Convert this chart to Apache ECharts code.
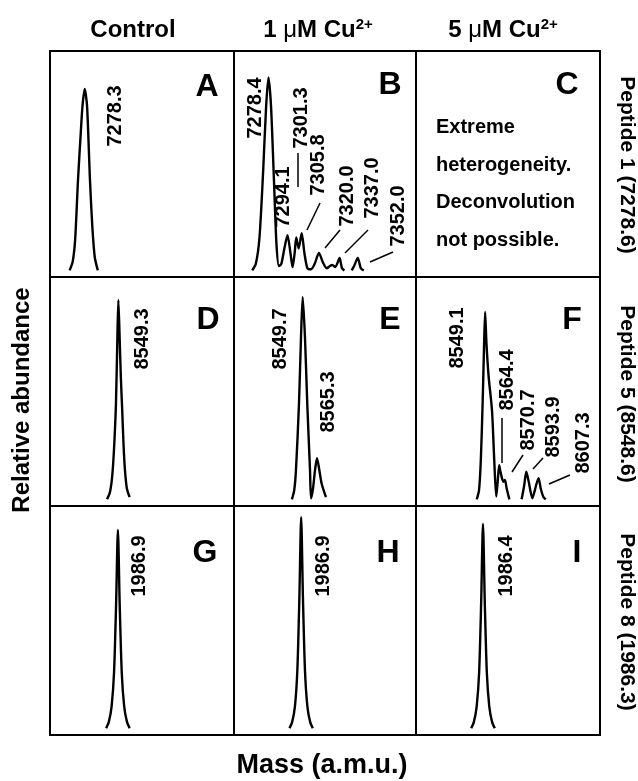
<!DOCTYPE html>
<html>
<head>
<meta charset="utf-8">
<script src="https://cdn.jsdelivr.net/npm/echarts@6/dist/echarts.min.js"></script>
<style>
html, body { margin: 0; padding: 0; background: #fff; }
#chart { width: 638px; height: 781px; }
</style>
</head>
<body>
<div id="chart"></div>
<script>
// titles
var columnTitles = ['Control', '1 {mu|μ}M Cu{sup|2+}', '5 {mu|μ}M Cu{sup|2+}'];
var rowTitles = ['Peptide 1 (7278.6)', 'Peptide 5 (8548.6)', 'Peptide 8 (1986.3)'];
var panelLetters = ['A', 'B', 'C', 'D', 'E', 'F', 'G', 'H', 'I'];
var noteC = ['Extreme', 'heterogeneity.', 'Deconvolution', 'not possible.'];

// deconvoluted spectra, mass (a.m.u.) vs relative abundance
var massA = [7266, 7268.5, 7270.5, 7272.8, 7275, 7276.5, 7278.3, 7280.2, 7282.6, 7284.5, 7286.5, 7289];
var abundA = [0, 4, 14, 41, 62, 75, 82.7, 75, 41, 20, 6, 0];

var massB = [7265, 7268, 7271, 7274, 7276.5, 7278.4, 7280.5, 7283, 7285, 7287, 7289, 7291.5, 7294.1, 7296.5, 7298.3, 7300, 7301.3, 7303.3, 7305.8, 7308, 7310.5, 7313.5, 7316.5, 7320, 7323, 7326.5, 7329, 7331, 7333.5, 7335, 7337, 7339, 7341, 7344, 7347, 7349, 7352, 7354.5, 7357];
var abundB = [0, 3, 15, 45, 75, 88, 75, 40, 12, 2, 3, 10, 16, 8, 1.5, 8, 15, 10, 17, 8, 1, 0.5, 3, 8, 4, 1, 2, 2.5, 1.5, 3, 5.7, 1, 0, '-', 0, 2, 5.7, 1, 0];

var massD = [8537, 8540, 8542, 8543.5, 8545, 8546.7, 8548.3, 8549.3, 8550.6, 8552, 8553.5, 8555, 8556.5, 8558.5, 8561.5];
var abundD = [0, 3, 8, 15, 26, 43, 74, 89.7, 74, 55, 40, 24, 13, 5, 1];

var massE = [8538, 8540.5, 8542.4, 8545.7, 8547.9, 8549.7, 8552.2, 8554.7, 8557.7, 8558.8, 8561, 8563.1, 8565.3, 8567.5, 8570.4, 8575];
var abundE = [0, 4, 13, 43, 73, 91, 73, 43, 13, 0.5, 5, 13, 18.5, 14, 7, 1];

var massF = [8540, 8542.5, 8544.5, 8546.4, 8547.8, 8549.1, 8550.6, 8553, 8556.6, 8559, 8561.2, 8562.8, 8564.4, 8566, 8569, 8570.7, 8572.5, 8575.5, 8582, 8588.8, 8591.5, 8593.9, 8596.5, 8600.5, 8602.5, 8605, 8607.3, 8609.5, 8612.5, 8615];
var abundF = [0, 4, 18, 43, 66, 84.3, 70, 55, 40, 18, 1.2, 8, 15.4, 12, 7.9, 8.7, 5, 0, '-', 0, 6, 12.4, 8, 0.5, 3, 7, 9.5, 5, 1, 0];

var massG = [1980.5, 1982, 1983.5, 1984.8, 1985.9, 1986.9, 1987.9, 1989, 1990.3, 1991.8, 1993.3];
var abundG = [0, 3, 10, 25, 55, 89.2, 55, 25, 10, 3, 0];
var massH = [1980.5, 1982, 1983.5, 1984.8, 1985.9, 1986.9, 1987.9, 1989, 1990.3, 1991.8, 1993.3];
var abundH = [0, 3, 10, 26, 58, 95, 58, 26, 10, 3, 0];
var massI = [1980, 1981.5, 1983, 1984.3, 1985.4, 1986.4, 1987.4, 1988.5, 1989.8, 1991.3, 1992.8];
var abundI = [0, 3, 10, 25, 56, 91.9, 56, 25, 10, 3, 0];

// peak annotations
var peaksA = ['7278.3'];
var peaksB = ['7278.4', '7294.1', '7301.3', '7305.8', '7320.0', '7337.0', '7352.0'];
var peaksD = ['8549.3'];
var peaksE = ['8549.7', '8565.3'];
var peaksF = ['8549.1', '8564.4', '8570.7', '8593.9', '8607.3'];
var peaksG = ['1986.9'];
var peaksH = ['1986.9'];
var peaksI = ['1986.4'];

// mass window of each panel
var massMin = [7250, 7250, 7250, 8475, 8475, 8474, 1950, 1950, 1950];
var massMax = [7400, 7400, 7400, 8675, 8673, 8674, 2050, 2050, 2050];

// ---- layout ----
var colLeft = [50, 234, 416], colWidth = [184, 182, 184];
var rowTop = [51, 277, 506], rowHeight = [226, 229, 229];
var FONT = '"Liberation Sans", Arial, Helvetica, sans-serif';

var panelData = [
    [massA, abundA], [massB, abundB], null,
    [massD, abundD], [massE, abundE], [massF, abundF],
    [massG, abundG], [massH, abundH], [massI, abundI]
];

function pairs(m, a) {
    var out = [];
    for (var i = 0; i < m.length; i++) out.push([m[i], a[i]]);
    return out;
}

var grids = [], xAxes = [], yAxes = [], series = [];
for (var i = 0; i < 9; i++) {
    var r = Math.floor(i / 3), c = i % 3;
    grids.push({
        left: colLeft[c], top: rowTop[r], width: colWidth[c], height: rowHeight[r],
        show: true, borderColor: '#000', borderWidth: 2, backgroundColor: 'transparent'
    });
    xAxes.push({ type: 'value', gridIndex: i, min: massMin[i], max: massMax[i], show: false });
    yAxes.push({ type: 'value', gridIndex: i, min: -3, max: 100, show: false });
    if (panelData[i]) {
        series.push({
            type: 'line', xAxisIndex: i, yAxisIndex: i,
            data: pairs(panelData[i][0], panelData[i][1]),
            showSymbol: false, smooth: 0.25, connectNulls: false,
            lineStyle: { color: '#000', width: 2.4 }, silent: true
        });
    }
}

var g = [];
function txt(s, x, y, size, rot, weight, align) {
    g.push({
        type: 'text', x: x, y: y, rotation: rot || 0, silent: true,
        style: {
            text: s, fill: '#000', font: (weight || 'bold') + ' ' + size + 'px ' + FONT,
            textAlign: align || 'center', textVerticalAlign: 'middle'
        }
    });
}
function seg(x1, y1, x2, y2) {
    g.push({ type: 'line', silent: true, shape: { x1: x1, y1: y1, x2: x2, y2: y2 },
        style: { stroke: '#000', lineWidth: 1.5 } });
}
var UP = Math.PI / 2, DOWN = -Math.PI / 2;

// column headers
var headX = [133, 318, 503];
for (var c = 0; c < 3; c++) {
    g.push({
        type: 'text', x: headX[c], y: 30, silent: true,
        style: {
            text: columnTitles[c], fill: '#000', font: 'bold 24px ' + FONT,
            textAlign: 'center', textVerticalAlign: 'middle',
            rich: {
                mu: { font: 'normal 24px ' + FONT, fill: '#000' },
                sup: { font: 'bold 15px ' + FONT, fill: '#000', verticalAlign: 'top', padding: [0, 0, 10, 0] }
            }
        }
    });
}
// row titles (right side)
var rowY = [165, 394, 622];
for (var r = 0; r < 3; r++) txt(rowTitles[r], 627, rowY[r], 21, DOWN, 'bold');

// axis titles
txt('Relative abundance', 22, 400, 24, UP);
txt('Mass (a.m.u.)', 322, 766, 27, 0);

// panel letters
var letterPos = [[207, 87], [390, 85], [567, 85], [208, 320], [390, 320], [572, 320], [205, 553], [388, 553], [577, 553]];
for (var i = 0; i < 9; i++) txt(panelLetters[i], letterPos[i][0], letterPos[i][1], 32, 0);

// note in panel C
var noteY = [127, 165, 202, 240];
for (var k = 0; k < noteC.length; k++) txt(noteC[k], 436, noteY[k], 20, 0, 'bold', 'left');

// peak labels
function peakLabels(list, pos) {
    for (var k = 0; k < list.length; k++) txt(list[k], pos[k][0], pos[k][1], 20, UP);
}
peakLabels(peaksA, [[115, 116]]);
peakLabels(peaksB, [[255, 108], [283, 197], [301, 118], [318, 165], [347, 196], [372, 188], [398, 216]]);
peakLabels(peaksD, [[142, 339]]);
peakLabels(peaksE, [[280, 339], [328, 402]]);
peakLabels(peaksF, [[457, 338], [507, 380], [528, 420], [553, 427], [583, 443]]);
peakLabels(peaksG, [[139, 566]]);
peakLabels(peaksH, [[323, 566]]);
peakLabels(peaksI, [[506, 566]]);

// leader lines
seg(298, 153, 298, 187);
seg(320, 203, 307, 230);
seg(340, 230, 325, 248);
seg(368, 230, 345, 253);
seg(393, 252, 370, 262);
seg(502, 418, 502, 463);
seg(523, 455, 512, 472);
seg(543, 458, 533, 469);
seg(570, 475, 549, 484);

var chart = echarts.init(document.getElementById('chart'), null, { renderer: 'canvas' });
chart.setOption({
    animation: false,
    backgroundColor: '#fff',
    grid: grids,
    xAxis: xAxes,
    yAxis: yAxes,
    series: series,
    graphic: g
});
</script>
</body>
</html>
